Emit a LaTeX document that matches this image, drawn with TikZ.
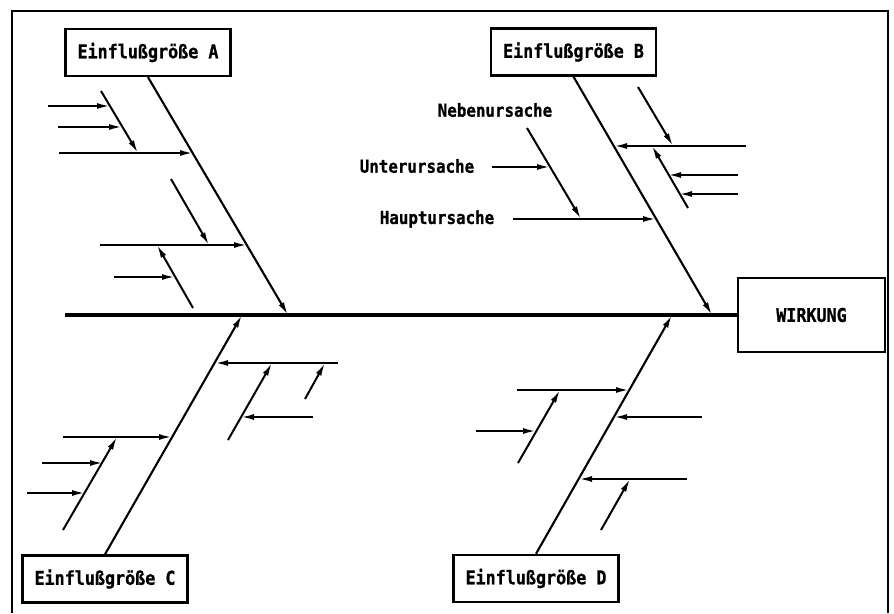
\documentclass[tikz,border=0pt]{standalone}
\usepackage{fontspec}
\newfontfamily\plotfont[FakeStretch=0.88, BoldFeatures={FakeBold=0.8}]{DejaVu Sans Mono}
\usepackage{tikz}
\usetikzlibrary{arrows.meta}

\begin{document}
\begin{tikzpicture}[
    x=1pt, y=-1pt,
    box/.style={rectangle, draw, line width=2.4pt, minimum width=165pt, minimum height=47pt, inner sep=0pt, font=\plotfont\bfseries\fontsize{19}{22}\selectfont},
    label/.style={inner sep=0pt, font=\plotfont\bfseries\fontsize{18}{21}\selectfont},
    bone/.style={line width=2.1pt, -{Latex[length=13pt,width=6pt]}},
    arrow/.style={line width=2pt, -{Latex[length=13pt,width=6pt]}}
]
    \useasboundingbox (0,0) rectangle (894,613);
    % frame
    \draw[line width=1.8pt] (12,613) -- (12,11) -- (888,11) -- (888,613);

    % boxes
    \node[box] (gA) at (148,52.5) {Einflußgröße A};
    \node[box] (gB) at (573.5,52) {Einflußgröße B};
    \node[box] (gC) at (105,579) {Einflußgröße C};
    \node[box] (gD) at (536,578.5) {Einflußgröße D};
    \node[box, minimum width=147pt, minimum height=74pt] (wirkung) at (811.5,315) {WIRKUNG};

    % spine
    \coordinate (s0) at (65,315);
    \draw[line width=3.2pt] (s0) -- (wirkung.west);

    % main bones
    \coordinate (A1) at (288,315);
    \coordinate (B1) at (712,315);
    \coordinate (C1) at (242,315);
    \coordinate (D1) at (672,315);
    \draw[bone] (gA.south) -- (A1);
    \draw[bone] (gB.south) -- (B1);
    \draw[bone] (gC.north) -- (C1);
    \draw[bone] (gD.north) -- (D1);

    % bone A
    \coordinate (a1s) at (59,153);  \coordinate (a1e) at (193,153);
    \coordinate (a2s) at (101,91);  \coordinate (a2e) at (138,153);
    \coordinate (a3s) at (48,106);  \coordinate (a3e) at (110,106);
    \coordinate (a4s) at (58,127);  \coordinate (a4e) at (122,127);
    \coordinate (a5s) at (100,245); \coordinate (a5e) at (247,245);
    \coordinate (a6s) at (171,179); \coordinate (a6e) at (209,245);
    \coordinate (a7s) at (193,308); \coordinate (a7e) at (157,245);
    \coordinate (a8s) at (114,277); \coordinate (a8e) at (175,277);
    \draw[arrow] (a1s) -- (a1e);
    \draw[arrow] (a2s) -- (a2e);
    \draw[arrow] (a3s) -- (a3e);
    \draw[arrow] (a4s) -- (a4e);
    \draw[arrow] (a5s) -- (a5e);
    \draw[arrow] (a6s) -- (a6e);
    \draw[arrow] (a7s) -- (a7e);
    \draw[arrow] (a8s) -- (a8e);

    % bone B
    \node[label] (neben) at (495,110) {Nebenursache};
    \node[label] (unter) at (417,166) {Unterursache};
    \node[label] (haupt) at (437,219) {Hauptursache};
    \coordinate (b1s) at (513,219); \coordinate (b1e) at (656,219);
    \coordinate (b2s) at (527,128); \coordinate (b2e) at (581,219);
    \coordinate (b3s) at (492,167); \coordinate (b3e) at (550,167);
    \coordinate (b4s) at (746,146); \coordinate (b4e) at (614,146);
    \coordinate (b5s) at (638,87);  \coordinate (b5e) at (673,146);
    \coordinate (b6s) at (688,208); \coordinate (b6e) at (652,146);
    \coordinate (b7s) at (738,175); \coordinate (b7e) at (668,175);
    \coordinate (b8s) at (738,194); \coordinate (b8e) at (679,194);
    \draw[arrow] (b1s) -- (b1e);
    \draw[arrow] (b2s) -- (b2e);
    \draw[arrow] (b3s) -- (b3e);
    \draw[arrow] (b4s) -- (b4e);
    \draw[arrow] (b5s) -- (b5e);
    \draw[arrow] (b6s) -- (b6e);
    \draw[arrow] (b7s) -- (b7e);
    \draw[arrow] (b8s) -- (b8e);

    % bone C
    \coordinate (c1s) at (63,437);  \coordinate (c1e) at (172,437);
    \coordinate (c2s) at (63,530);  \coordinate (c2e) at (117,437);
    \coordinate (c3s) at (42,463);  \coordinate (c3e) at (103,463);
    \coordinate (c4s) at (27,493);  \coordinate (c4e) at (85,493);
    \coordinate (c5s) at (338,363); \coordinate (c5e) at (215,363);
    \coordinate (c6s) at (228,440); \coordinate (c6e) at (272,363);
    \coordinate (c7s) at (313,417); \coordinate (c7e) at (241,417);
    \coordinate (c8s) at (305,399); \coordinate (c8e) at (325,363);
    \draw[arrow] (c1s) -- (c1e);
    \draw[arrow] (c2s) -- (c2e);
    \draw[arrow] (c3s) -- (c3e);
    \draw[arrow] (c4s) -- (c4e);
    \draw[arrow] (c5s) -- (c5e);
    \draw[arrow] (c6s) -- (c6e);
    \draw[arrow] (c7s) -- (c7e);
    \draw[arrow] (c8s) -- (c8e);

    % bone D
    \coordinate (d1s) at (517,390); \coordinate (d1e) at (629,390);
    \coordinate (d2s) at (518,463); \coordinate (d2e) at (560,390);
    \coordinate (d3s) at (476,431); \coordinate (d3e) at (536,431);
    \coordinate (d4s) at (702,417); \coordinate (d4e) at (614,417);
    \coordinate (d5s) at (687,479); \coordinate (d5e) at (579,479);
    \coordinate (d6s) at (601,530); \coordinate (d6e) at (630,479);
    \draw[arrow] (d1s) -- (d1e);
    \draw[arrow] (d2s) -- (d2e);
    \draw[arrow] (d3s) -- (d3e);
    \draw[arrow] (d4s) -- (d4e);
    \draw[arrow] (d5s) -- (d5e);
    \draw[arrow] (d6s) -- (d6e);
\end{tikzpicture}
\end{document}
